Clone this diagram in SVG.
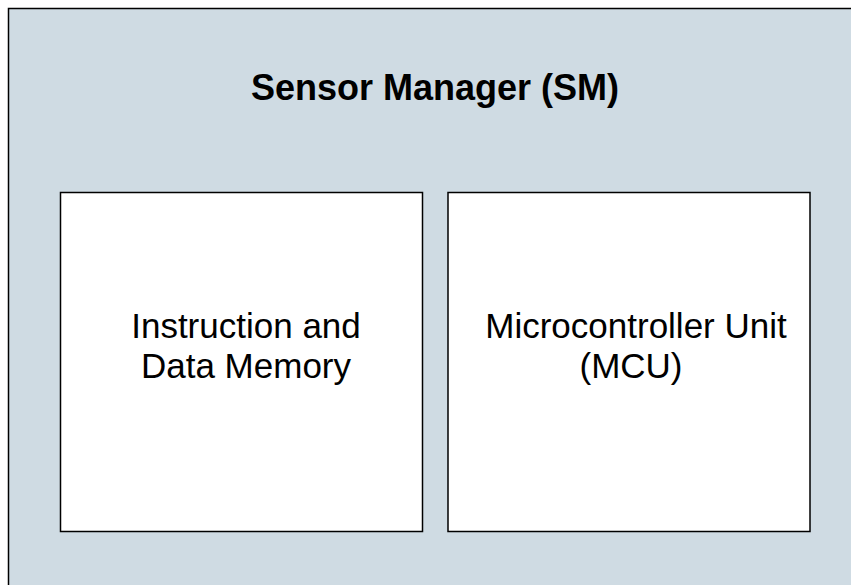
<svg xmlns="http://www.w3.org/2000/svg" width="851" height="585" viewBox="0 0 851 585">
<style>
.box{fill:#ffffff;stroke:#000000;stroke-width:1.5}
.outer{fill:#CFDBE3;stroke:#000000;stroke-width:1.5}
.t{font-family:"Liberation Sans",Arial,sans-serif;font-size:35px;fill:#000000;text-anchor:middle}
.title{font-family:"Liberation Sans",Arial,sans-serif;font-size:36px;font-weight:bold;fill:#000000;text-anchor:middle}
</style>
<rect width="851" height="585" fill="#ffffff"/>
<g id="sensor-manager">
<rect class="outer" x="8.5" y="8.5" width="900" height="650"/>
<text class="title" x="435" y="100">Sensor Manager (SM)</text>
</g>
<g id="memory">
<rect class="box" x="60.5" y="192.5" width="362" height="339"/>
<text class="t" x="246" y="338">Instruction and</text>
<text class="t" x="246" y="378">Data Memory</text>
</g>
<g id="mcu">
<rect class="box" x="448" y="192.5" width="362" height="339"/>
<text class="t" x="636" y="338">Microcontroller Unit</text>
<text class="t" x="631" y="378">(MCU)</text>
</g>
<g id="connectors"></g>
</svg>
